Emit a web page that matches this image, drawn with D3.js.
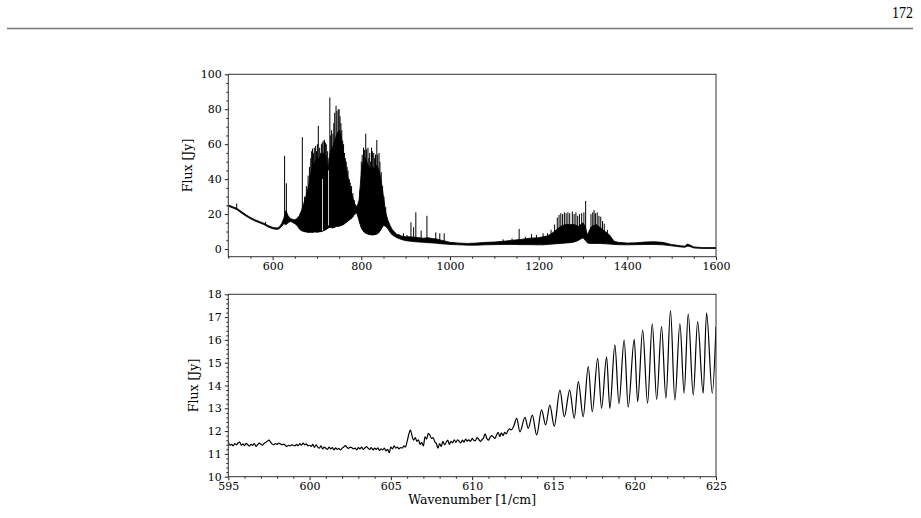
<!DOCTYPE html>
<html lang="en">
<head>
<meta charset="UTF-8">
<title>Flux spectrum</title>
<script src="https://d3js.org/d3.v7.min.js"></script>
<style>
    body { margin: 0; background: #fff; }
    svg { display: block; }
    .axis text { font-family: "DejaVu Serif", serif; font-size: 11px; fill: #000; }
    .axis line { stroke: #222; }
    .label { font-family: "DejaVu Serif", serif; font-size: 12.5px; fill: #000; }
</style>
</head>
<body>
<div id="container"></div>
<script>
    // ---- full spectrum (top panel): sampled envelope of the dense band structure
    const specWave = [500,505,510,515,520,530,540,550,560,570,
        580,590,600,610,615,620,625,630,635,640,
        645,650,655,660,665,670,675,680,685,690,
        695,700,705,710,715,720,725,730,735,740,
        745,750,755,760,765,770,775,780,785,790,
        795,800,805,810,815,820,825,830,835,840,
        845,850,855,860,865,870,880,890,900,910,
        920,930,940,950,960,970,980,990,1000,1020,
        1040,1060,1080,1100,1120,1140,1160,1180,1200,1210,
        1220,1230,1240,1250,1260,1270,1280,1290,1300,1305,
        1310,1315,1320,1330,1340,1350,1360,1370,1380,1400,
        1420,1440,1460,1480,1500,1520,1530,1535,1540,1550,
        1570,1600];
    const specLow = [24.5,24.0,23.5,23.0,22.4,20.5,18.8,17.3,16.0,15.0,
        14.0,12.6,11.6,11.2,11.6,12.8,14.5,14.0,15.0,15.8,
        15.2,14.5,13.5,11.5,10.5,10.0,9.8,9.5,9.6,9.5,
        9.8,9.6,9.8,10.0,10.5,11.0,12.0,12.5,12.0,12.5,
        13.0,13.0,13.5,14.0,15.0,16.0,17.0,18.0,20.0,20.5,
        16.0,12.0,10.0,9.0,8.5,8.2,8.0,8.2,8.5,9.5,
        11.5,13.5,13.0,11.5,9.5,8.0,6.5,5.5,4.8,4.5,
        4.2,4.0,3.8,3.6,3.5,3.3,3.0,2.8,2.6,2.4,
        2.2,2.2,2.4,2.5,2.6,2.6,2.5,2.5,2.4,2.4,
        2.6,2.8,3.0,3.2,3.4,3.6,4.0,5.0,6.5,5.0,
        3.5,3.2,3.2,3.2,3.2,3.0,2.8,2.6,2.5,2.4,
        2.5,2.6,2.6,2.4,1.8,1.2,1.0,1.6,1.5,0.6,
        0.3,0.3];
    const specHigh = [25.2,24.8,24.2,23.8,23.2,21.4,19.6,18.1,16.8,15.8,
        14.8,13.4,12.4,12.0,12.6,14.5,17.5,22.0,19.0,17.5,
        17.0,16.8,17.5,19.0,22.0,26.0,30.0,35.0,42.0,48.0,
        50.0,52.0,52.0,54.0,55.0,54.0,45.0,56.0,58.0,62.0,
        66.0,68.0,64.0,54.0,47.0,41.0,35.0,30.0,26.0,24.0,
        28.0,44.0,52.0,52.0,48.0,46.0,47.0,46.0,48.0,45.0,
        39.0,30.0,21.0,16.5,13.5,11.0,8.5,7.5,7.0,7.0,
        6.8,6.5,6.2,6.5,6.0,5.8,5.0,4.5,3.8,3.4,
        3.2,3.4,3.8,4.0,4.4,5.0,5.5,6.2,6.5,7.0,
        7.5,9.0,11.0,13.0,14.0,14.0,14.0,13.0,15.0,13.0,
        8.0,11.0,13.0,14.0,12.0,10.0,8.0,4.5,3.8,3.4,
        3.6,4.0,4.2,3.8,2.6,1.9,1.6,2.8,2.5,1.2,
        0.8,0.8];

    // individual lines standing above the envelope (position, foot, top)
    const lineWave = [519,584,627,631,667,672,676,680,683,686,
        688,690,692,694,697,699,701,703,706,708,
        710,712,714,717,719,721,724,727,729,731,
        733,736,738,740,743,745,748,750,752,754,
        756,758,760,762,764,766,768,770,773,775,
        778,781,784,797,800,802,805,807,810,812,
        815,817,819,821,823,825,828,830,832,835,
        837,840,842,845,848,851,855,885,895,903,
        912,918,923,935,948,968,977,987,1120,1140,
        1156,1170,1184,1195,1210,1220,1228,1236,1242,1246,
        1250,1254,1258,1262,1266,1270,1276,1280,1284,1288,
        1292,1297,1302,1306,1318,1322,1325,1328,1332,1336,
        1340,1344,1348,1355];
    const lineBase = [22.5,13.8,14.5,14.2,10.3,10.0,9.8,9.5,9.6,9.6,
        9.6,9.5,9.6,9.7,9.7,9.7,9.6,9.7,9.8,9.9,
        10.0,10.0,10.3,10.7,10.9,11.2,11.8,12.2,12.5,12.4,
        12.2,12.0,12.2,12.5,12.8,13.0,13.0,13.0,13.2,13.4,
        13.6,13.8,14.0,14.4,14.8,15.2,15.6,16.0,16.5,17.0,
        17.5,18.4,19.6,14.5,12.0,11.2,10.0,9.6,9.0,8.8,
        8.5,8.4,8.3,8.2,8.1,8.0,8.1,8.2,8.3,8.5,
        8.8,9.5,10.3,11.5,12.7,13.6,13.0,6.0,5.2,4.7,
        4.5,4.3,4.2,3.9,3.6,3.3,3.1,2.9,2.6,2.6,
        2.5,2.5,2.5,2.4,2.4,2.6,2.8,3.0,3.1,3.1,
        3.2,3.3,3.3,3.4,3.5,3.6,3.8,4.0,4.3,4.8,
        5.3,6.0,6.0,5.0,3.2,3.2,3.2,3.2,3.2,3.2,
        3.2,3.1,3.0,2.9];
    const lineFlux = [26,15.5,53.3,37.6,64,30,36,42,47,52,
        56,57.5,55,58,59,56,60,70.5,58,55,
        60,61,62,62.5,61,60,56,52,86.7,65,
        68,66,72,78,82,79,80,80,76,72,
        68,62,60,55,52,50,47,45,40,38,
        36,32,28,34,50,54,58,56.7,66,57,
        58,52,55,50,58,56,55,52,54,62.4,
        54,55,50,44,36,30,24,8.5,9,8,
        15.3,12.5,21,10.5,19,9.5,9,9,5.5,6,
        11.5,7,8.5,8,9,9,11,14,18,19.5,
        20.5,20,21,20.5,21,20.5,21.5,20,21,19,
        20,20.5,21,27.5,20,21,22.3,20.5,21,19,
        18.5,16,14.5,11];

    // narrow absorption gaps cutting through the first band (position, foot, top)
    const gapWave = [712.5, 726];
    const gapLow = [10.5, 13.5];
    const gapHigh = [40, 45];

    // ---- zoom 595-625 (bottom panel)
    const zoomStart = 595, zoomStep = 0.1;   // sampling of the noisy part
    const zoomNoise = [
        11.55,11.38,11.42,11.35,11.45,11.40,11.48,11.52,11.38,11.44,
        11.36,11.46,11.40,11.35,11.42,11.38,11.45,11.33,11.40,11.47,
        11.43,11.38,11.46,11.50,11.56,11.60,11.52,11.43,11.40,11.45,
        11.42,11.47,11.44,11.40,11.43,11.38,11.33,11.38,11.35,11.40,
        11.38,11.35,11.42,11.36,11.45,11.38,11.47,11.40,11.44,11.35,
        11.38,11.33,11.42,11.28,11.40,11.30,11.25,11.35,11.22,11.30,
        11.25,11.20,11.30,11.22,11.28,11.18,11.26,11.20,11.24,11.17,
        11.25,11.30,11.36,11.28,11.24,11.30,11.27,11.22,11.25,11.18,
        11.28,11.22,11.30,11.20,11.26,11.32,11.25,11.20,11.28,11.17,
        11.25,11.20,11.26,11.15,11.22,11.18,11.25,11.13,11.20,11.05,
        11.30,11.22,11.35,11.25,11.30,11.22,11.28,11.25,11.35,11.30,
        11.55,11.85,12.05,11.80,11.60,11.72,11.55,11.62,11.42,11.50,
        11.35,11.75,11.65,11.90,11.82,11.68,11.72,11.53,11.45,11.25,
        11.45,11.32,11.55,11.40,11.50,11.60,11.42,11.55,11.48,11.62,
        11.50,11.62,11.55,11.48,11.60,11.52,11.65,11.56,11.62,11.55,
        11.68,11.60,11.58,11.72,11.64,11.55,11.62,11.70,11.88,11.68,
        11.60,11.72,11.80,11.74,11.68,11.82,11.95,11.76,11.92,11.80,
        11.95,11.88,12.02,12.10,12.05];
    // fringe pattern above 612.5: alternating maxima and minima
    const fringeWave = [612.55,612.74,612.94,613.25,613.45,613.70,613.97,614.27,614.52,614.78,
        615.05,615.40,615.67,616.00,616.28,616.53,616.83,617.14,617.39,617.72,
        617.96,618.27,618.47,618.78,619.03,619.35,619.60,619.97,620.18,620.49,
        620.79,621.08,621.35,621.65,621.92,622.20,622.47,622.78,623.04,623.29,
        623.60,623.87,624.21,624.42,624.77,625.00];
    const fringeFlux = [12.20,12.56,11.97,12.60,12.12,12.70,11.83,12.93,12.27,13.14,
        12.22,13.80,12.63,13.80,12.56,14.17,12.63,14.83,12.85,15.19,
        13.00,15.26,13.00,15.78,13.20,15.99,13.05,16.02,13.29,16.43,
        13.22,16.70,13.39,16.58,13.44,17.28,13.36,16.70,13.66,17.14,
        13.58,16.80,13.66,17.19,13.66,16.58];

    const width = 921, height = 518;
    const left = 228.3, right = 716;
    const topPanel = { y0: 74.3, y1: 256.7 };
    const botPanel = { y0: 294.3, y1: 476.7 };

    const svg = d3.select("#container").append("svg")
        .attr("width", width)
        .attr("height", height);

    // page header
    svg.append("line")
        .attr("x1", 7).attr("x2", 913)
        .attr("y1", 28.5).attr("y2", 28.5)
        .attr("stroke", "#777").attr("stroke-width", 1.5);
    svg.append("text")
        .attr("x", 913).attr("y", 18.3)
        .attr("text-anchor", "end")
        .attr("font-family", "Liberation Serif, serif")
        .attr("font-size", 17)
        .attr("textLength", 21).attr("lengthAdjust", "spacingAndGlyphs")
        .text("172");

    function range(a, b, step) {
        const out = [];
        for (let v = a; v <= b + 1e-9; v += step) out.push(+v.toFixed(4));
        return out;
    }

    function drawAxes(g, x, y, p, xMajor, xMinor, yMajor, yMinor) {
        const xAxis = g.append("g").attr("class", "axis")
            .attr("transform", `translate(0,${p.y1})`)
            .call(d3.axisBottom(x).tickValues(xMajor).tickSize(3.5).tickPadding(2.5).tickFormat(d3.format("d")));
        xAxis.select(".domain").remove();
        g.append("g").attr("class", "axis")
            .attr("transform", `translate(0,${p.y1})`)
            .call(d3.axisBottom(x).tickValues(xMinor.filter(v => !xMajor.includes(v))).tickSize(2).tickFormat(""))
            .select(".domain").remove();

        const yAxis = g.append("g").attr("class", "axis")
            .attr("transform", `translate(${left},0)`)
            .call(d3.axisLeft(y).tickValues(yMajor).tickSize(3.5).tickPadding(3).tickFormat(d3.format("d")));
        yAxis.select(".domain").remove();
        g.append("g").attr("class", "axis")
            .attr("transform", `translate(${left},0)`)
            .call(d3.axisLeft(y).tickValues(yMinor.filter(v => !yMajor.includes(v))).tickSize(2).tickFormat(""))
            .select(".domain").remove();

        g.append("rect")
            .attr("x", left).attr("y", p.y0)
            .attr("width", right - left).attr("height", p.y1 - p.y0)
            .attr("fill", "none").attr("stroke", "#333").attr("stroke-width", 1);
    }

    // ---- top panel
    const xTop = d3.scaleLinear().domain([500, 1600]).range([left, right]);
    const yTop = d3.scaleLinear().domain([-4.4, 100]).range([topPanel.y1, topPanel.y0]);

    svg.append("clipPath").attr("id", "clipTop").append("rect")
        .attr("x", left).attr("y", topPanel.y0)
        .attr("width", right - left).attr("height", topPanel.y1 - topPanel.y0);
    svg.append("clipPath").attr("id", "clipBot").append("rect")
        .attr("x", left).attr("y", botPanel.y0)
        .attr("width", right - left).attr("height", botPanel.y1 - botPanel.y0);

    const gTop = svg.append("g");
    const specIdx = d3.range(specWave.length);
    const dTop = gTop.append("g").attr("clip-path", "url(#clipTop)");
    dTop.append("path")
        .attr("d", d3.area()
            .x(i => xTop(specWave[i]))
            .y0(i => yTop(specLow[i]))
            .y1(i => yTop(specHigh[i]))(specIdx))
        .attr("fill", "#000")
        .attr("stroke", "#000")
        .attr("stroke-width", 0.8)
        .attr("stroke-linejoin", "round");
    dTop.selectAll(".emline")
        .data(d3.range(lineWave.length))
        .join("line")
        .attr("class", "emline")
        .attr("x1", i => xTop(lineWave[i])).attr("x2", i => xTop(lineWave[i]))
        .attr("y1", i => yTop(lineBase[i])).attr("y2", i => yTop(lineFlux[i]))
        .attr("stroke", "#000").attr("stroke-width", 1);
    dTop.selectAll(".gap")
        .data(d3.range(gapWave.length))
        .join("line")
        .attr("class", "gap")
        .attr("x1", i => xTop(gapWave[i])).attr("x2", i => xTop(gapWave[i]))
        .attr("y1", i => yTop(gapLow[i])).attr("y2", i => yTop(gapHigh[i]))
        .attr("stroke", "#fff").attr("stroke-width", 0.8);

    drawAxes(gTop, xTop, yTop, topPanel,
        [600, 800, 1000, 1200, 1400, 1600], range(500, 1600, 50),
        [0, 20, 40, 60, 80, 100], range(0, 100, 5));

    svg.append("text").attr("class", "label")
        .attr("transform", `translate(192,${(topPanel.y0 + topPanel.y1) / 2}) rotate(-90)`)
        .attr("text-anchor", "middle")
        .text("Flux [Jy]");

    // ---- bottom panel
    const xBot = d3.scaleLinear().domain([595, 625]).range([left, right]);
    const yBot = d3.scaleLinear().domain([10, 18]).range([botPanel.y1, botPanel.y0]);

    const zoomPts = zoomNoise.map((f, i) => [zoomStart + i * zoomStep, f])
        .concat(fringeWave.map((w, i) => [w, fringeFlux[i]]));

    const gBot = svg.append("g");
    gBot.append("g").attr("clip-path", "url(#clipBot)")
        .append("path")
        .attr("d", d3.line()
            .x(d => xBot(d[0]))
            .y(d => yBot(d[1]))
            .curve(d3.curveMonotoneX)(zoomPts))
        .attr("fill", "none")
        .attr("stroke", "#000")
        .attr("stroke-width", 1.2)
        .attr("stroke-linejoin", "round");

    drawAxes(gBot, xBot, yBot, botPanel,
        [595, 600, 605, 610, 615, 620, 625], range(595, 625, 1),
        [10, 11, 12, 13, 14, 15, 16, 17, 18], range(10, 18, 0.2));

    svg.append("text").attr("class", "label")
        .attr("transform", `translate(198,${(botPanel.y0 + botPanel.y1) / 2}) rotate(-90)`)
        .attr("text-anchor", "middle")
        .text("Flux [Jy]");

    svg.append("text").attr("class", "label")
        .attr("x", (left + right) / 2).attr("y", 504)
        .attr("text-anchor", "middle")
        .text("Wavenumber [1/cm]");
</script>
</body>
</html>
